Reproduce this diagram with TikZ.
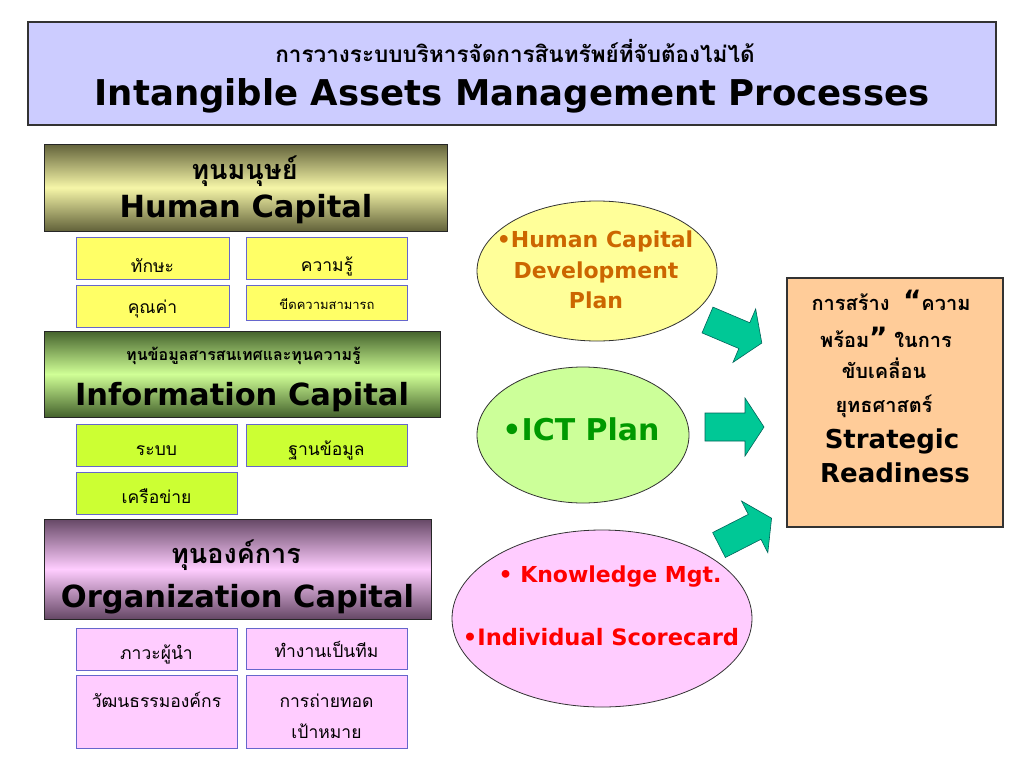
\documentclass[tikz,border=0pt]{standalone}
\usepackage{fontspec}
\setmainfont{DejaVu Sans}
\newfontfamily\thai[Script=Thai]{Loma}
\newfontfamily\en{DejaVu Sans}
\usetikzlibrary{shapes.geometric}
\definecolor{titlefill}{HTML}{CCCCFF}
\definecolor{tborder}{HTML}{333333}
\definecolor{hcdark}{RGB}{98,98,58}
\definecolor{hclight}{RGB}{246,246,168}
\definecolor{icdark}{RGB}{68,98,44}
\definecolor{iclight}{RGB}{208,255,150}
\definecolor{ocdark}{RGB}{102,72,102}
\definecolor{oclight}{RGB}{255,205,255}
\definecolor{yelbox}{HTML}{FFFF66}
\definecolor{limebox}{HTML}{CCFF33}
\definecolor{pinkbox}{HTML}{FFCCFF}
\definecolor{subborder}{HTML}{6666CC}
\definecolor{ellyel}{HTML}{FFFF99}
\definecolor{ellgreen}{HTML}{CCFF99}
\definecolor{ellpink}{HTML}{FFCCFF}
\definecolor{orangetxt}{HTML}{CC6600}
\definecolor{greentxt}{HTML}{009900}
\definecolor{redtxt}{HTML}{FF0000}
\definecolor{arrowfill}{RGB}{0,200,150}
\definecolor{arrowline}{RGB}{0,100,90}
\definecolor{peach}{HTML}{FFCC99}
\begin{document}
\begin{tikzpicture}[x=1pt,y=-1pt,
  every node/.style={inner sep=0pt, outer sep=0pt},
  titlebox/.style={draw=tborder, line width=1.2pt, fill=titlefill, minimum width=968pt, minimum height=103pt},
  hdr/.style={draw=black!85, line width=1pt},
  hcsty/.style={hdr, top color=hcdark, bottom color=hcdark, middle color=hclight},
  icsty/.style={hdr, top color=icdark, bottom color=icdark, middle color=iclight},
  ocsty/.style={hdr, top color=ocdark, bottom color=ocdark, middle color=oclight},
  subbox/.style={draw=subborder, line width=1pt},
  ysub/.style={subbox, fill=yelbox},
  lsub/.style={subbox, fill=limebox},
  psub/.style={subbox, fill=pinkbox},
  thsub/.style={anchor=base, font=\thai\fontsize{17.5}{20}\selectfont},
  thhead/.style={anchor=base, font=\thai\bfseries\fontsize{27}{30}\selectfont},
  enhead/.style={anchor=base, font=\en\bfseries\fontsize{30.5}{34}\selectfont},
  ellsty/.style={ellipse, draw=black!80, line width=0.8pt},
  elltxt/.style={anchor=base, font=\en\bfseries\fontsize{22}{26}\selectfont},
  arrowsty/.style={fill=arrowfill, draw=arrowline, line width=0.6pt},
  barrow/.pic={\draw[arrowsty] (0,-14) -- (40,-14) -- (40,-29) -- (59,0) -- (40,29) -- (40,14) -- (0,14) -- cycle;},
  rbth/.style={anchor=base, font=\thai\bfseries\fontsize{20}{24}\selectfont},
  rben/.style={anchor=base, font=\en\bfseries\fontsize{26}{30}\selectfont}
]
\useasboundingbox (0,0) rectangle (1024,768);
\fill[white] (0,0) rectangle (1024,768);

% title
\node[titlebox] (title) at (512,73.5) {};
\node[anchor=base, font=\thai\bfseries\fontsize{22.5}{26}\selectfont] (titleth) at (515,63) {การวางระบบบริหารจัดการสินทรัพย์ที่จับต้องไม่ได้};
\node[anchor=base, font=\en\bfseries\fontsize{35.5}{40}\selectfont] (titleen) at (512,105) {Intangible Assets Management Processes};

% human capital
\node[hcsty, minimum width=403pt, minimum height=87pt] (hc) at (245.5,187.5) {};
\node[thhead] (hcth) at (244.5,179) {ทุนมนุษย์};
\node[enhead] (hcen) at (246,217) {Human Capital};
\node[ysub, minimum width=153pt, minimum height=42pt] (s1) at (152.5,258) {};
\node[ysub, minimum width=161pt, minimum height=42pt] (s2) at (326.5,258) {};
\node[ysub, minimum width=153pt, minimum height=42pt] (s3) at (152.5,306) {};
\node[ysub, minimum width=161pt, minimum height=35pt] (s4) at (326.5,302.5) {};
\node[thsub] (s1t) at (152.5,272) {ทักษะ};
\node[thsub] (s2t) at (327,271) {ความรู้};
\node[thsub] (s3t) at (152.5,313) {คุณค่า};
\node[thsub, font=\thai\fontsize{13}{16}\selectfont] (s4t) at (327,309) {ขีดความสามารถ};

% information capital
\node[icsty, minimum width=396pt, minimum height=86pt] (ic) at (242,374) {};
\node[thhead, font=\thai\bfseries\fontsize{16}{19}\selectfont] (icth) at (243.5,360) {ทุนข้อมูลสารสนเทศและทุนความรู้};
\node[enhead] (icen) at (242,405) {Information Capital};
\node[lsub, minimum width=161pt, minimum height=42pt] (i1) at (156.5,445) {};
\node[lsub, minimum width=161pt, minimum height=42pt] (i2) at (326.5,445) {};
\node[lsub, minimum width=161pt, minimum height=42pt] (i3) at (156.5,493) {};
\node[thsub] (i1t) at (156.5,455) {ระบบ};
\node[thsub] (i2t) at (326.5,455) {ฐานข้อมูล};
\node[thsub] (i3t) at (156.5,503) {เครือข่าย};

% organization capital
\node[ocsty, minimum width=387pt, minimum height=100pt] (oc) at (237.5,569) {};
\node[thhead] (octh) at (236,563) {ทุนองค์การ};
\node[enhead] (ocen) at (237.5,607) {Organization Capital};
\node[psub, minimum width=161pt, minimum height=42pt] (o1) at (156.5,649) {};
\node[psub, minimum width=161pt, minimum height=41pt] (o2) at (326.5,648.5) {};
\node[psub, minimum width=161pt, minimum height=73pt] (o3) at (156.5,711.5) {};
\node[psub, minimum width=161pt, minimum height=73pt] (o4) at (326.5,711.5) {};
\node[thsub] (o1t) at (156.5,659) {ภาวะผู้นำ};
\node[thsub] (o2t) at (326.5,657) {ทำงานเป็นทีม};
\node[thsub] (o3t) at (156.5,707) {วัฒนธรรมองค์กร};
\node[thsub] (o4t) at (326.5,707) {การถ่ายทอด};
\node[thsub] (o4u) at (326.5,738) {เป้าหมาย};

% ellipses
\node[ellsty, fill=ellyel, minimum width=240pt, minimum height=140pt] (e1) at (597,271) {};
\node[elltxt, text=orangetxt] (e1a) at (595,247) {•Human Capital};
\node[elltxt, text=orangetxt] (e1b) at (596,278) {Development};
\node[elltxt, text=orangetxt] (e1c) at (596,308) {Plan};
\node[ellsty, fill=ellgreen, minimum width=212pt, minimum height=136pt] (e2) at (583,435) {};
\node[elltxt, text=greentxt, font=\en\bfseries\fontsize{30}{34}\selectfont] (e2a) at (581,440) {•ICT Plan};
\node[ellsty, fill=ellpink, minimum width=300pt, minimum height=177pt] (e3) at (602,618.5) {};
\node[elltxt, text=redtxt] (e3a) at (610,582) {• Knowledge Mgt.};
\node[elltxt, text=redtxt, font=\en\bfseries\fontsize{22.6}{26}\selectfont] (e3b) at (601,645) {•Individual Scorecard};

% block arrows
\pic[rotate=-23] at (707.5,320) {barrow};
\pic at (705,427) {barrow};
\pic[rotate=27] at (719,545) {barrow};

% strategic readiness
\node[draw=tborder, line width=1.2pt, fill=peach, minimum width=216pt, minimum height=249pt] (sr) at (895,402.5) {};
\node[rbth] (sr1) at (891,310) {การสร้าง\ \ {\en\bfseries\fontsize{28}{28}\selectfont “}ความ};
\node[rbth] (sr2) at (886,347) {พร้อม{\en\bfseries\fontsize{28}{28}\selectfont ”} ในการ};
\node[rbth] (sr3) at (884,378) {ขับเคลื่อน};
\node[rbth] (sr4) at (884,412) {ยุทธศาสตร์};
\node[rben] (sr5) at (892,448) {Strategic};
\node[rben] (sr6) at (895,482) {Readiness};
\end{tikzpicture}
\end{document}
